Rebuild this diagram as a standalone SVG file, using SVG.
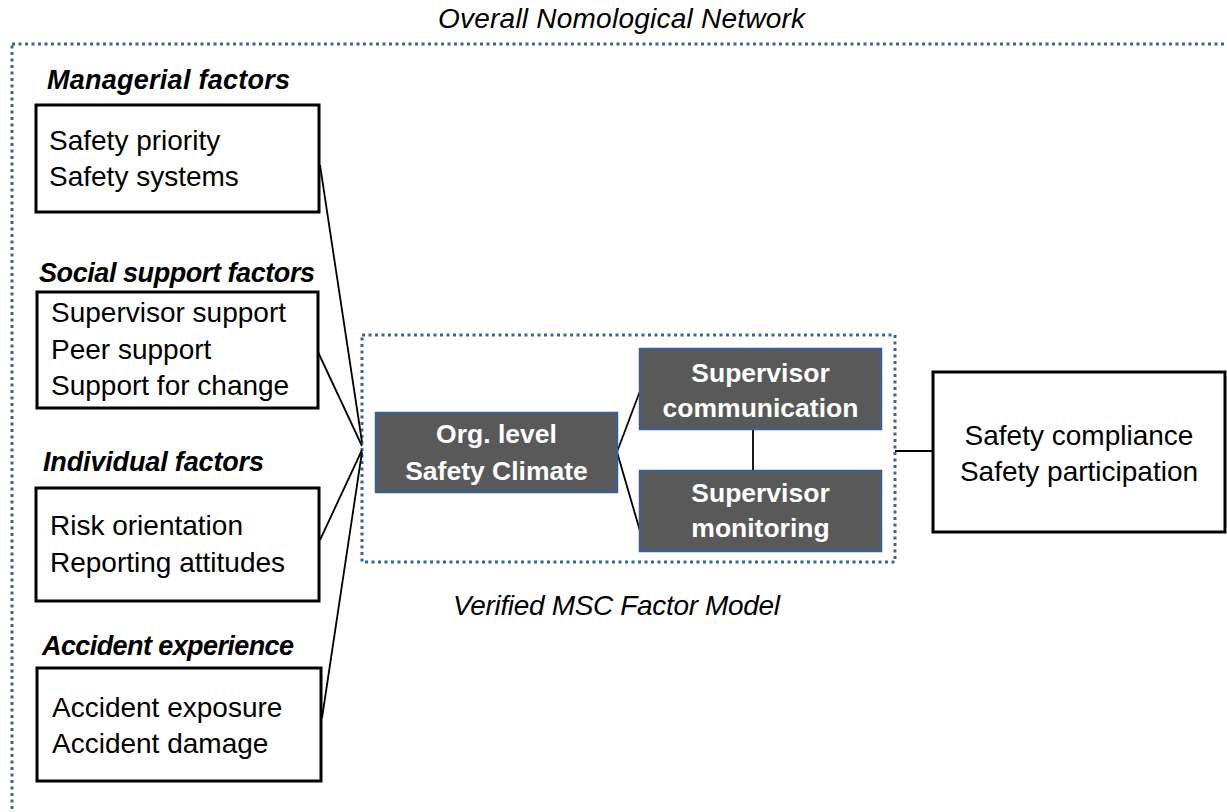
<svg xmlns="http://www.w3.org/2000/svg" width="1227" height="812" viewBox="0 0 1227 812">
<style>
.dot{fill:none;stroke:#3d6496;stroke-width:3;stroke-dasharray:3 3.5}
.box{fill:#fff;stroke:#000;stroke-width:3}
.dark{fill:#595959;stroke:#3b5f8f;stroke-width:2.5}
.t{font-family:"Liberation Sans",Arial,sans-serif;font-size:28px;fill:#000}
.h{font-family:"Liberation Sans",Arial,sans-serif;font-size:27px;font-weight:bold;font-style:italic;fill:#000}
.w{font-family:"Liberation Sans",Arial,sans-serif;font-size:26.5px;font-weight:bold;fill:#fff;text-anchor:middle}
.i{font-family:"Liberation Sans",Arial,sans-serif;font-size:28px;font-style:italic;fill:#000}
.c{stroke:#000;stroke-width:1.8;fill:none}
</style>
<rect width="1227" height="812" fill="#fff"/>
<g id="overall">
<rect class="dot" x="12" y="44" width="1240" height="800"/>
<text class="i" x="438" y="28" textLength="367">Overall Nomological Network</text>
</g>
<g id="verified">
<rect class="dot" x="362" y="335" width="533" height="227"/>
<text class="i" x="453" y="615" textLength="327">Verified MSC Factor Model</text>
</g>
<g id="connectors">
<line class="c" x1="320" y1="165" x2="362" y2="442"/>
<line class="c" x1="318" y1="352" x2="362" y2="446"/>
<line class="c" x1="320" y1="540" x2="362" y2="450"/>
<line class="c" x1="322" y1="718" x2="362" y2="452"/>
<line class="c" x1="617" y1="452" x2="640" y2="391"/>
<line class="c" x1="617" y1="452" x2="640" y2="531"/>
<line class="c" x1="753" y1="429" x2="753" y2="471"/>
<line class="c" x1="895" y1="451" x2="933" y2="451"/>
</g>
<g id="managerial">
<text class="h" x="47" y="89" textLength="243">Managerial factors</text>
<rect class="box" x="36" y="105" width="283" height="107"/>
<text class="t" x="49" y="150">Safety priority</text>
<text class="t" x="49" y="186">Safety systems</text>
</g>
<g id="social">
<text class="h" x="39" y="282" textLength="276">Social support factors</text>
<rect class="box" x="37" y="292" width="281" height="116"/>
<text class="t" x="51" y="322">Supervisor support</text>
<text class="t" x="51" y="359">Peer support</text>
<text class="t" x="51" y="395">Support for change</text>
</g>
<g id="individual">
<text class="h" x="43" y="471" textLength="221">Individual factors</text>
<rect class="box" x="36" y="488" width="283" height="113"/>
<text class="t" x="50" y="535">Risk orientation</text>
<text class="t" x="50" y="572">Reporting attitudes</text>
</g>
<g id="accident">
<text class="h" x="42" y="655" textLength="252">Accident experience</text>
<rect class="box" x="37" y="668" width="284" height="113"/>
<text class="t" x="52" y="717">Accident exposure</text>
<text class="t" x="52" y="753">Accident damage</text>
</g>
<g id="org">
<rect class="dark" x="376" y="413" width="241" height="79"/>
<text class="w" x="496.5" y="443">Org. level</text>
<text class="w" x="496.5" y="480">Safety Climate</text>
</g>
<g id="communication">
<rect class="dark" x="640" y="349" width="241" height="80"/>
<text class="w" x="760.5" y="382">Supervisor</text>
<text class="w" x="760.5" y="417">communication</text>
</g>
<g id="monitoring">
<rect class="dark" x="640" y="471" width="241" height="80"/>
<text class="w" x="760.5" y="502">Supervisor</text>
<text class="w" x="760.5" y="537">monitoring</text>
</g>
<g id="outcome">
<rect class="box" x="933" y="372" width="292" height="160"/>
<text class="t" x="1079" y="445" text-anchor="middle">Safety compliance</text>
<text class="t" x="1079" y="481" text-anchor="middle">Safety participation</text>
</g>
</svg>
